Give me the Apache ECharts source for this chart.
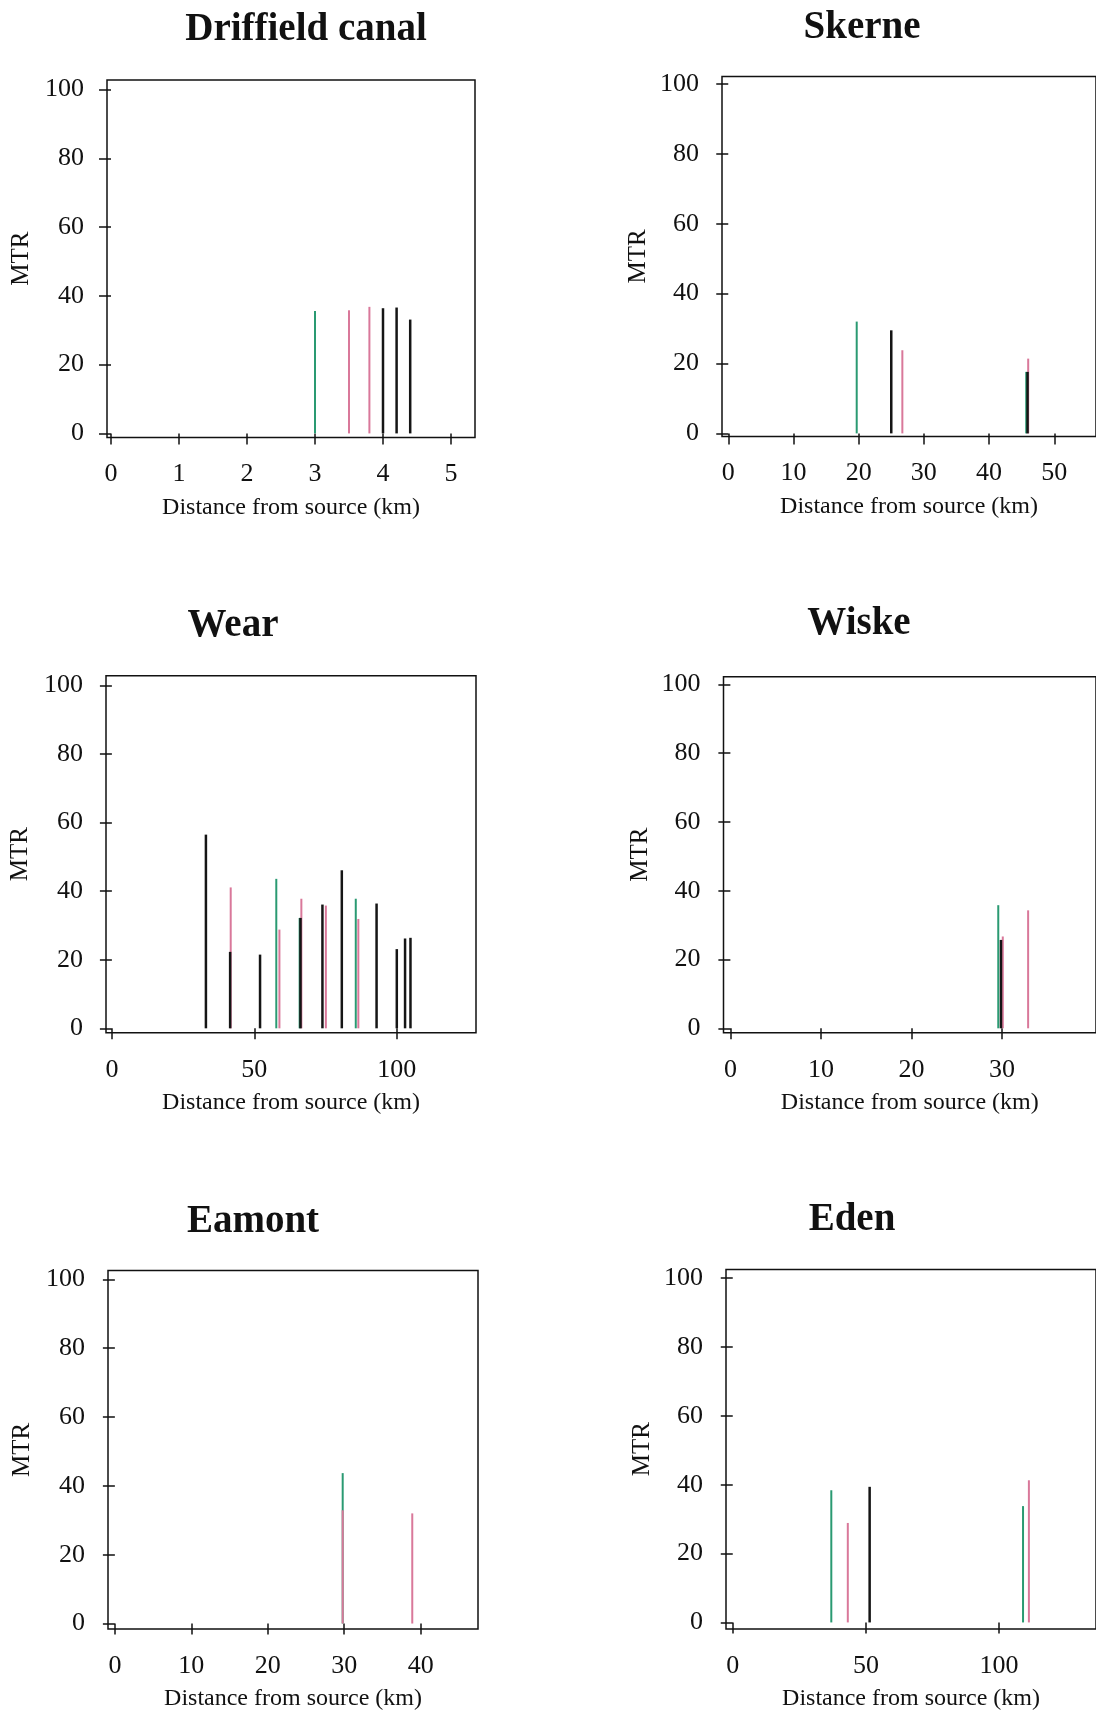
<!DOCTYPE html>
<html>
<head>
<meta charset="utf-8">
<script src="https://cdn.jsdelivr.net/npm/echarts@6/dist/echarts.min.js"></script>
<style>
html,body{margin:0;padding:0;background:#fff;}
#chart{width:1096px;height:1712px;}
</style>
</head>
<body>
<div id="chart"></div>
<script>
// ---- data (distance km, MTR) ----
const panelTitles = ["Driffield canal", "Skerne", "Wear", "Wiske", "Eamont", "Eden"];
const yAxisName = "MTR";
const xAxisName = "Distance from source (km)";
const mtrTicks = [0, 20, 40, 60, 80, 100];

const driffieldXTicks = [0, 1, 2, 3, 4, 5];
const driffieldGreen = [[3.0, 35.6]];
const driffieldPink = [[3.5, 35.8], [3.8, 36.8]];
const driffieldBlack = [[4.0, 36.4], [4.2, 36.6], [4.4, 33.1]];

const skerneXTicks = [0, 10, 20, 30, 40, 50];
const skerneGreen = [[19.7, 32.0], [45.7, 17.6]];
const skernePink = [[26.7, 23.8], [46.0, 21.4]];
const skerneBlack = [[25.0, 29.5], [45.9, 17.6]];

const wearXTicks = [0, 50, 100];
const wearGreen = [[57.7, 43.6], [65.9, 32.2], [85.6, 37.8]];
const wearPink = [[41.7, 41.1], [58.8, 28.8], [66.5, 37.8], [75.1, 35.8], [86.5, 31.9]];
const wearBlack = [[33.0, 56.5], [41.5, 22.3], [52.0, 21.5], [66.2, 32.2], [73.9, 36.1], [80.7, 46.1], [92.9, 36.4], [100.0, 23.1], [102.9, 26.2], [104.8, 26.4]];

const wiskeXTicks = [0, 10, 20, 30];
const wiskeGreen = [[29.6, 35.8]];
const wiskePink = [[30.1, 26.7], [32.9, 34.3]];
const wiskeBlack = [[29.9, 25.7]];

const eamontXTicks = [0, 10, 20, 30, 40];
const eamontGreen = [[29.8, 43.7]];
const eamontPink = [[29.8, 32.9], [38.9, 32.0]];
const eamontBlack = [];

const edenXTicks = [0, 50, 100];
const edenGreen = [[37.0, 38.4], [109.0, 33.8]];
const edenPink = [[43.2, 28.9], [111.2, 41.3]];
const edenBlack = [[51.4, 39.4]];

// ---- layout / style ----
const FONT = "Liberation Serif";
const COL = { green: "#2a9a72", pink: "#d9789a", black: "#151515" };

const layouts = [
  { grid: { left: 107, top: 80, width: 368, height: 357.5 }, x: [-0.059, 5.353], y: [-1.19, 102.76], title: [301, 5], nameGap: 73 },
  { grid: { left: 722, top: 76.4, width: 378, height: 360.2 }, x: [-0.96, 56.4], y: [-0.92, 102.18], title: [857, 3], nameGap: 71 },
  { grid: { left: 106, top: 675.7, width: 370, height: 357 }, x: [-2.07, 127.8], y: [-1.28, 102.86], title: [228, 601], nameGap: 73 },
  { grid: { left: 723.5, top: 676.8, width: 378, height: 355.9 }, x: [-0.76, 40.4], y: [-1.28, 102.21], title: [854, 599], nameGap: 71 },
  { grid: { left: 108, top: 1270.6, width: 370, height: 360.3 }, x: [-0.9, 47.5], y: [-1.59, 102.54], title: [248, 1197], nameGap: 73 },
  { grid: { left: 726, top: 1269.5, width: 378, height: 361.4 }, x: [-2.54, 136.4], y: [-1.91, 102.54], title: [847, 1195], nameGap: 71 }
];
const xTickSets = [driffieldXTicks, skerneXTicks, wearXTicks, wiskeXTicks, eamontXTicks, edenXTicks];
const seriesSets = [
  [driffieldGreen, driffieldPink, driffieldBlack],
  [skerneGreen, skernePink, skerneBlack],
  [wearGreen, wearPink, wearBlack],
  [wiskeGreen, wiskePink, wiskeBlack],
  [eamontGreen, eamontPink, eamontBlack],
  [edenGreen, edenPink, edenBlack]
];

function spikeRenderer(color, width) {
  return function (params, api) {
    const x = api.value(0), y = api.value(1);
    const top = api.coord([x, y]);
    const base = api.coord([x, 0]);
    return {
      type: "line",
      shape: { x1: base[0], y1: base[1], x2: top[0], y2: top[1] },
      style: { stroke: color, lineWidth: width }
    };
  };
}

const option = {
  backgroundColor: "#ffffff",
  animation: false,
  title: [], grid: [], xAxis: [], yAxis: [], series: []
};

layouts.forEach((L, i) => {
  option.title.push({
    text: panelTitles[i],
    left: L.title[0], top: L.title[1], textAlign: "center",
    textStyle: { fontFamily: FONT, fontWeight: "bold", fontSize: 39, color: "#111" }
  });
  option.grid.push(Object.assign({
    show: true, borderColor: "#111", borderWidth: 1.5, backgroundColor: "transparent", containLabel: false
  }, L.grid));
  option.xAxis.push({
    type: "value", gridIndex: i, min: L.x[0], max: L.x[1],
    name: xAxisName, nameLocation: "middle", nameGap: 58,
    nameTextStyle: { fontFamily: FONT, fontSize: 24, color: "#111" },
    axisLine: { show: false },
    axisTick: { show: true, length: 11, lineStyle: { color: "#111", width: 1.5 }, customValues: xTickSets[i] },
    axisLabel: { fontFamily: FONT, fontSize: 26, color: "#111", margin: 24, customValues: xTickSets[i] },
    splitLine: { show: false }
  });
  option.yAxis.push({
    type: "value", gridIndex: i, min: L.y[0], max: L.y[1],
    name: yAxisName, nameLocation: "middle", nameGap: L.nameGap,
    nameTextStyle: { fontFamily: FONT, fontSize: 25, color: "#111" },
    axisLine: { show: false },
    axisTick: { show: true, length: 12, lineStyle: { color: "#111", width: 1.5 }, customValues: mtrTicks },
    axisLabel: { fontFamily: FONT, fontSize: 26, color: "#111", margin: 23, customValues: mtrTicks },
    splitLine: { show: false }
  });
  const cols = [COL.green, COL.pink, COL.black];
  const widths = [2, 2, 2.5];
  seriesSets[i].forEach((d, k) => {
    option.series.push({
      type: "custom", xAxisIndex: i, yAxisIndex: i,
      encode: { x: 0, y: 1 },
      data: d,
      renderItem: spikeRenderer(cols[k], widths[k]),
      silent: true
    });
  });
});

const chart = echarts.init(document.getElementById("chart"), null, { renderer: "canvas" });
chart.setOption(option);
</script>
</body>
</html>
